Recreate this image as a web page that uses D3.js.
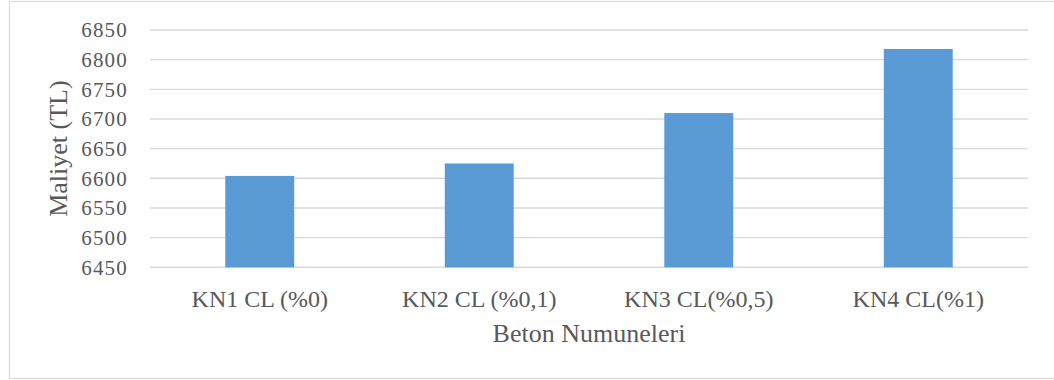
<!DOCTYPE html>
<html>
<head>
<meta charset="utf-8">
<script src="https://cdn.jsdelivr.net/npm/d3@7"></script>
<style>
  html, body { margin: 0; padding: 0; background: #fff; }
  svg { display: block; }
</style>
</head>
<body>
<svg id="chart" width="1054" height="380"></svg>
<script>
// Concrete specimen costs (TL)
const categories = ["KN1 CL (%0)", "KN2 CL (%0,1)", "KN3 CL(%0,5)", "KN4 CL(%1)"];
const costs = [6604, 6625, 6710, 6818];
const yTicks = [6450, 6500, 6550, 6600, 6650, 6700, 6750, 6800, 6850];

const FONT = "'Liberation Serif', 'Times New Roman', serif";
const INK = "#595959";

const svg = d3.select("#chart");
const W = 1054;
const plot = { left: 150, right: 1028, top: 30, bottom: 267.3 };

// Outer chart frame
svg.append("rect")
  .attr("x", 9.5).attr("y", 1.5)
  .attr("width", W).attr("height", 377)
  .attr("fill", "#fff").attr("stroke", "#d9d9d9").attr("stroke-width", 1.2);

const x = d3.scaleBand()
  .domain(categories)
  .range([plot.left, plot.right])
  .paddingInner(0.686)
  .paddingOuter(0.343);

const y = d3.scaleLinear()
  .domain([6450, 6850])
  .range([plot.bottom, plot.top]);

// Horizontal gridlines
svg.append("g")
  .selectAll("line")
  .data(yTicks)
  .join("line")
  .attr("x1", plot.left).attr("x2", plot.right)
  .attr("y1", d => y(d)).attr("y2", d => y(d))
  .attr("stroke", "#d9d9d9").attr("stroke-width", 1.4);

// Bars
svg.append("g")
  .selectAll("rect")
  .data(categories)
  .join("rect")
  .attr("x", d => x(d))
  .attr("width", x.bandwidth())
  .attr("y", (d, i) => y(costs[i]))
  .attr("height", (d, i) => y(6450) - y(costs[i]))
  .attr("fill", "#5b9bd5");

// Y axis labels
const yAxis = d3.axisLeft(y).tickValues(yTicks).tickSize(0).tickPadding(0).tickFormat(d3.format("d"));
const yg = svg.append("g").attr("transform", `translate(128,0)`).call(yAxis)
  .attr("font-family", null).attr("font-size", null);
yg.select(".domain").remove();
yg.selectAll("text")
  .style("font-family", FONT).style("font-size", "21px").style("letter-spacing", "1.2px")
  .attr("fill", INK);

// X axis labels
const xAxis = d3.axisBottom(x).tickSize(0).tickPadding(0);
const xg = svg.append("g").attr("transform", `translate(0,${plot.bottom})`).call(xAxis)
  .attr("font-family", null).attr("font-size", null);
xg.select(".domain").remove();
xg.selectAll("text")
  .style("font-family", FONT).style("font-size", "24px")
  .attr("dy", null).attr("y", 40)
  .attr("fill", INK);

// Axis titles
svg.append("text")
  .attr("x", (plot.left + plot.right) / 2).attr("y", 342)
  .attr("text-anchor", "middle")
  .style("font-family", FONT).style("font-size", "26px").attr("fill", INK)
  .text("Beton Numuneleri");

svg.append("text")
  .attr("transform", `translate(67,${(plot.top + plot.bottom) / 2}) rotate(-90)`)
  .attr("text-anchor", "middle")
  .style("font-family", FONT).style("font-size", "26px").attr("fill", INK)
  .text("Maliyet (TL)");
</script>
</body>
</html>
